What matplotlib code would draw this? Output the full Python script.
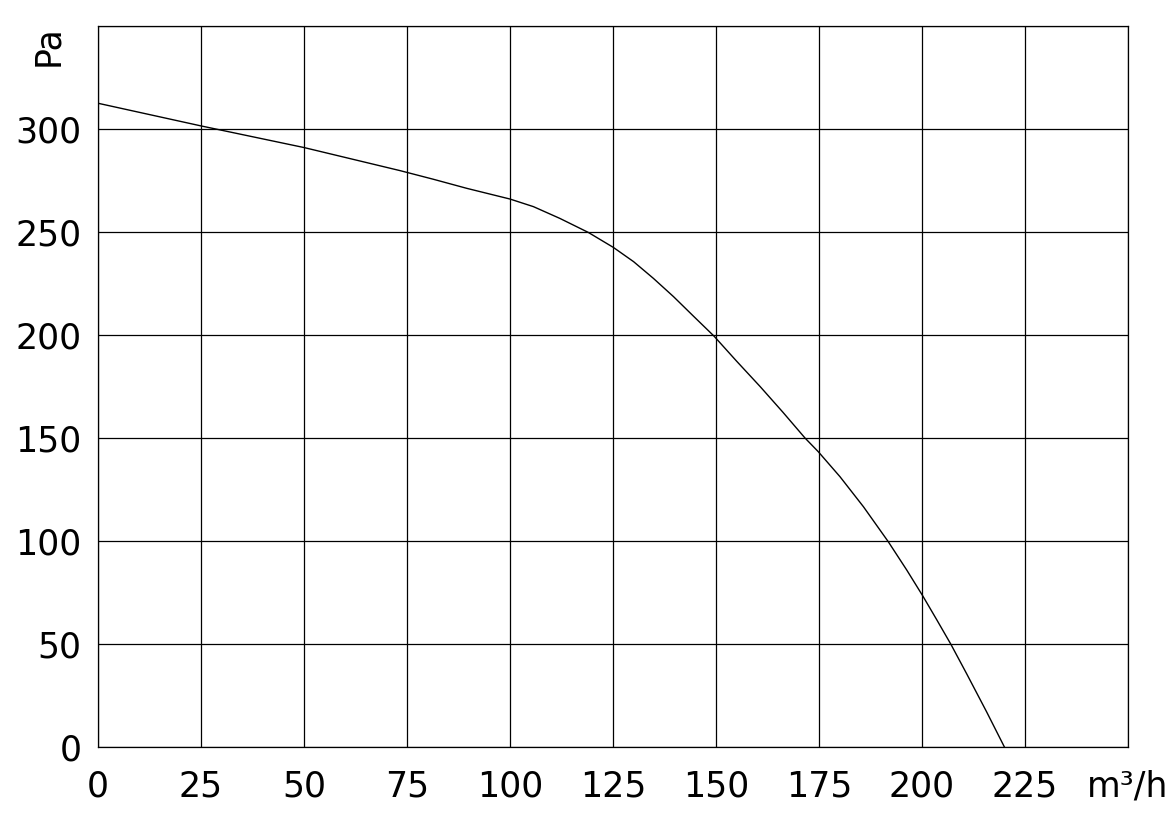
import matplotlib.pyplot as plt

# flow (m3/h) vs pressure (Pa)
flow = [0, 25, 50, 73.3, 81.4, 89.5, 100, 105.7, 112.1, 119, 125.1, 130, 134.8, 139.7,
        144.5, 149.5, 155, 160.7, 166.2, 171.6, 174.8, 180.1, 185.8, 191.8, 196.3,
        200.2, 203.6, 207, 210.8, 215.7, 220]
pressure = [312.5, 301.5, 291, 279.8, 275.6, 271.2, 266, 262.3, 256.6, 249.8, 242.5, 235.6,
            227.5, 218.6, 209.2, 199.5, 187.3, 175, 162.6, 150, 143.4, 131.2, 116.6, 99.7,
            85.9, 73.3, 61.7, 49.9, 35.7, 17, 0]

x_ticks = [0, 25, 50, 75, 100, 125, 150, 175, 200, 225, 250]
x_labels = ['0', '25', '50', '75', '100', '125', '150', '175', '200', '225', 'm³/h']
y_ticks = [0, 50, 100, 150, 200, 250, 300, 350]
y_labels = ['0', '50', '100', '150', '200', '250', '300', '']

fig = plt.figure(figsize=(11.74, 8.27), dpi=100)
ax = fig.add_axes([98 / 1174, 80 / 827, 1030 / 1174, 721 / 827])

ax.plot(flow, pressure, color='black', linewidth=1.0)

ax.set_xlim(0, 250)
ax.set_ylim(0, 350)
ax.set_xticks(x_ticks)
ax.set_xticklabels(x_labels)
ax.set_yticks(y_ticks)
ax.set_yticklabels(y_labels)
ax.tick_params(length=0, labelsize=25, pad=16)
ax.tick_params(axis='y', pad=12)
ax.grid(True, color='black', linewidth=0.9)
for s in ax.spines.values():
    s.set_linewidth(0.9)

fig.text(48 / 1174, 1 - 46 / 827, 'Pa', rotation=90, fontsize=25, ha='center', va='center')

plt.savefig('out.png')
